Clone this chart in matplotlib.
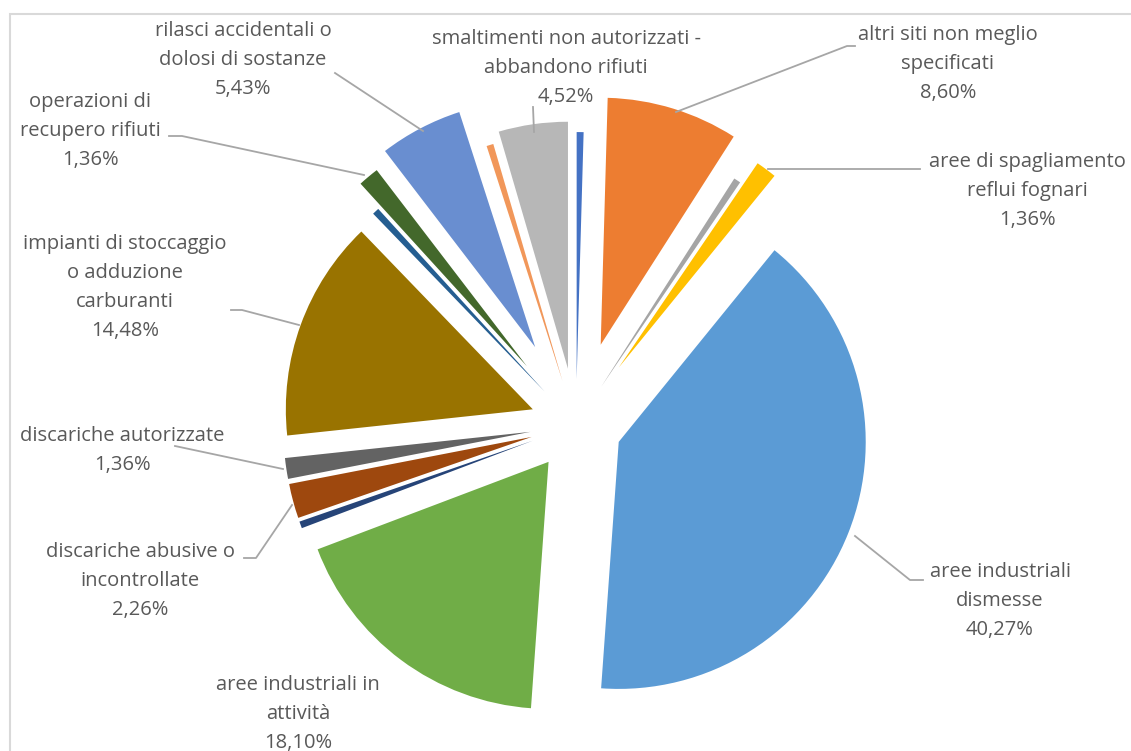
import matplotlib
matplotlib.use("Agg")
import matplotlib.pyplot as plt
from matplotlib.patches import Rectangle

# ---------------- data ----------------
categories = [
    "", "altri siti non meglio\nspecificati", "",
    "aree di spagliamento\nreflui fognari",
    "aree industriali\ndismesse",
    "aree industriali in\nattività", "",
    "discariche abusive o\nincontrollate",
    "discariche autorizzate",
    "impianti di stoccaggio\no adduzione\ncarburanti", "",
    "operazioni di\nrecupero rifiuti",
    "rilasci accidentali o\ndolosi di sostanze", "",
    "smaltimenti non autorizzati -\nabbandono rifiuti",
]
values = [0.45, 8.60, 0.45, 1.36, 40.27, 18.10, 0.45, 2.26, 1.36, 14.48,
          0.45, 1.36, 5.43, 0.45, 4.52]
pct_labels = ["", "8,60%", "", "1,36%", "40,27%", "18,10%", "", "2,26%",
              "1,36%", "14,48%", "", "1,36%", "5,43%", "", "4,52%"]
colors = ["#4472C4", "#ED7D31", "#A5A5A5", "#FFC000", "#5B9BD5", "#70AD47",
          "#264478", "#9E480E", "#636363", "#997300", "#255E91", "#43682B",
          "#698ED0", "#F1975A", "#B7B7B7"]
explode_frac = [0.186, 0.34, 0.186, 0.29, 0.186, 0.186, 0.186, 0.186, 0.186,
                0.186, 0.186, 0.31, 0.356, 0.186, 0.23]

W, H = 1131, 751
R = 247
fig = plt.figure(figsize=(W / 100, H / 100), dpi=100)
ax = fig.add_axes([0, 0, 1, 1])


def Y(y):
    return H - y


ax.add_patch(Rectangle((10, Y(1000)), 1200, 1000 - 14, fill=False,
                       edgecolor="#D9D9D9", linewidth=1.5))

ax.pie(values, colors=colors, explode=[e * R for e in explode_frac],
       startangle=90, counterclock=False, center=(576, Y(425)), radius=R,
       wedgeprops=dict(linewidth=0), frame=True)
ax.set_xlim(0, W)
ax.set_ylim(0, H)
ax.set_aspect("equal")
ax.axis("off")

txt = dict(color="#595959", fontsize=14.5, family=["Open Sans", "DejaVu Sans"],
           ha="center", va="top", linespacing=1.6)

# first-line centre of each label block, pixel coordinates
label_pos = {
    1: (948, 36), 3: (1027, 163), 4: (1000, 573), 5: (298, 686),
    7: (140, 553), 8: (122, 437), 9: (125, 245), 11: (90, 103),
    12: (243, 32), 14: (566, 40),
}
for i, (x, y) in label_pos.items():
    ax.text(x, Y(y - 11), categories[i] + "\n" + pct_labels[i], **txt)

# leader lines
leaders = [
    [(335, 73), (423, 131)],                       # rilasci
    [(533, 107), (534, 132)],                      # smaltimenti
    [(855, 46), (847, 46), (676, 112)],            # altri siti
    [(920, 169), (768, 169)],                      # spagliamento
    [(169, 136), (182, 136), (364, 175)],          # operazioni
    [(231, 310), (242, 310), (299, 325)],          # impianti
    [(175, 446), (283, 469)],                      # discariche autorizzate
    [(244, 558), (256, 558), (292, 505)],          # discariche abusive
    [(923, 580), (910, 580), (855, 536)],          # dismesse
]
for pts in leaders:
    xs = [p[0] for p in pts]
    ys = [Y(p[1]) for p in pts]
    ax.plot(xs, ys, color="#A6A6A6", linewidth=1.3, zorder=1)

fig.savefig("out.png", dpi=100)
